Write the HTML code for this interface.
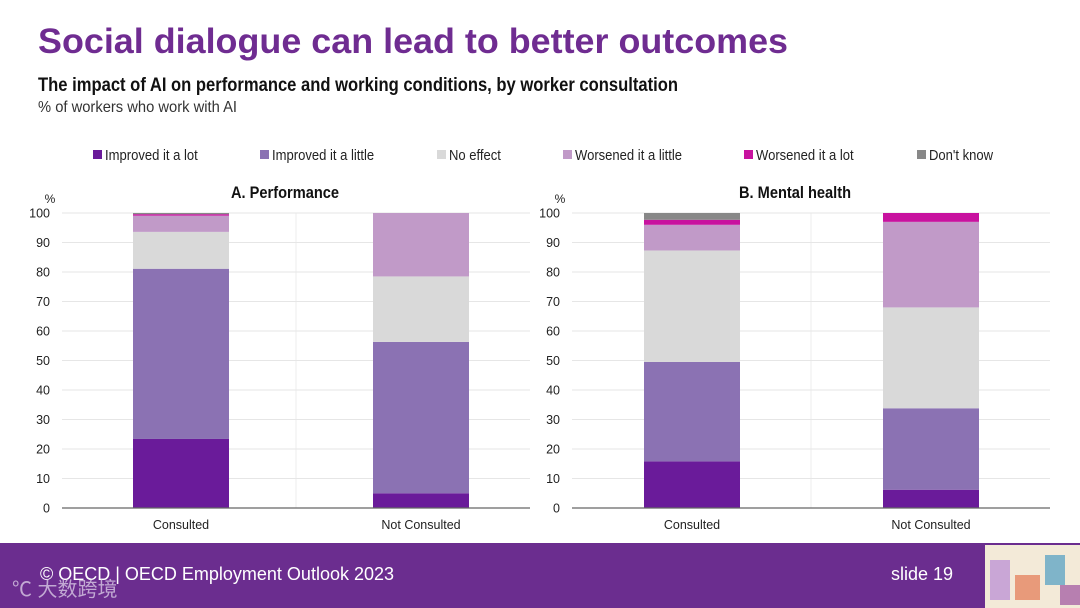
<!DOCTYPE html>
<html><head><meta charset="utf-8"><style>
html,body{margin:0;padding:0;background:#fff;}
svg{display:block;font-family:"Liberation Sans","Noto Sans CJK SC",sans-serif;}
</style></head><body>
<svg id="chart" width="1080" height="608" viewBox="0 0 1080 608">
<text x="38" y="53" font-size="35" font-weight="bold" fill="#6f2c91" textLength="750" lengthAdjust="spacingAndGlyphs">Social dialogue can lead to better outcomes</text>
<text x="38" y="91" font-size="19" font-weight="bold" fill="#111" textLength="640" lengthAdjust="spacingAndGlyphs">The impact of AI on performance and working conditions, by worker consultation</text>
<text x="38" y="112" font-size="16" fill="#333" textLength="199" lengthAdjust="spacingAndGlyphs">% of workers who work with AI</text>
<g id="legend"></g>
<g id="panels"></g>
<rect x="0" y="543" width="1080" height="65" fill="#6b2d8f"/>
<text x="40" y="580" font-size="18" fill="#fff" textLength="354" lengthAdjust="spacingAndGlyphs">© OECD | OECD Employment Outlook 2023</text>
<text x="891" y="580" font-size="18" fill="#fff">slide 19</text>
<text x="12" y="596" font-size="20" fill="#d8c8e4" opacity="0.8">℃ 大数跨境</text>
<g>
<rect x="985" y="545" width="95" height="63" fill="#f3ead8"/>
<rect x="990" y="560" width="20" height="40" fill="#c9a6d6"/>
<rect x="1015" y="575" width="25" height="25" fill="#e89a7a"/>
<rect x="1045" y="555" width="20" height="30" fill="#7fb4c9"/>
<rect x="1060" y="585" width="20" height="20" fill="#b77fb0"/>
</g>
</svg>
<script>
const categories = ["Consulted", "Not Consulted"];
const seriesNames = ["Improved it a lot","Improved it a little","No effect","Worsened it a little","Worsened it a lot","Don't know"];
const seriesColors = ["#6a1b9a","#8b72b3","#d9d9d9","#c19ac8","#c8129f","#888888"];
const perfConsulted = [23.4, 57.7, 12.5, 5.5, 0.5, 0.4];
const perfNotConsulted = [5.0, 51.3, 22.2, 21.5, 0, 0];
const mentalConsulted = [15.8, 33.7, 37.8, 8.7, 1.7, 2.3];
const mentalNotConsulted = [6.2, 27.6, 34.2, 29.0, 3.0, 0];
const yTicks = [0,10,20,30,40,50,60,70,80,90,100];
const panelTitles = ["A. Performance","B. Mental health"];

const NS="http://www.w3.org/2000/svg";
const svg=document.getElementById('chart');
function mk(tag,attrs,parent,text){const e=document.createElementNS(NS,tag);for(const k in attrs)e.setAttribute(k,attrs[k]);if(text!==undefined)e.textContent=text;(parent||svg).appendChild(e);return e;}

const legend=document.getElementById('legend');
const legX=[93,260,437,563,744,917];
seriesNames.forEach((n,i)=>{
  const g=mk('g',{},legend);
  
  
  mk('rect',{x:legX[i],y:150,width:9,height:9,fill:seriesColors[i]},g);
  mk('text',{x:legX[i]+12,y:160,'font-size':14.5,fill:'#222',transform:`translate(${(legX[i]+12)*0.1} 0) scale(0.9 1)`},g,n);
});

const panelData=[[perfConsulted,perfNotConsulted],[mentalConsulted,mentalNotConsulted]];
const panels=[{x0:62,x1:530,bars:[133,373],tx:231,tw:108},{x0:572,x1:1050,bars:[644,883],tx:739,tw:112}];
const yTop=213,yBot=508;
function yScale(v){return yBot-(v/100)*(yBot-yTop);}
const barW=96;
const pg=document.getElementById('panels');
panels.forEach((p,pi)=>{
  const g=mk('g',{},pg);
  
  
  const t=mk('text',{x:p.tx,y:198,'font-size':17,'font-weight':'bold',fill:'#111',textLength:p.tw,lengthAdjust:'spacingAndGlyphs'},g,panelTitles[pi]);
  
  
  const u=mk('text',{x:p.x0-12,y:203,'font-size':12,'text-anchor':'middle',fill:'#222'},g,'%');
  
  
  mk('line',{x1:(p.x0+p.x1)/2,x2:(p.x0+p.x1)/2,y1:yTop,y2:yBot,stroke:'#eeeeee','stroke-width':1},g);
  yTicks.forEach(v=>{
    if(v>0) mk('line',{x1:p.x0,x2:p.x1,y1:yScale(v),y2:yScale(v),stroke:'#e6e6e6','stroke-width':1},g);
    const lt=mk('text',{x:p.x0-12,y:yScale(v)+4.5,'font-size':12.5,'text-anchor':'end',fill:'#222'},g,String(v));
    
    
  });
  categories.forEach((c,ci)=>{
    const vals=panelData[pi][ci];
    let cum=0;
    vals.forEach((v,si)=>{
      if(v<=0)return;
      const r=mk('rect',{x:p.bars[ci],y:yScale(cum+v),width:barW,height:yScale(cum)-yScale(cum+v),fill:seriesColors[si]},g);
      
      
      cum+=v;
    });
    const xl=mk('text',{x:p.bars[ci]+barW/2,y:529,'font-size':12.5,'text-anchor':'middle',fill:'#222'},g,c);
    
    
  });
  mk('line',{x1:p.x0,x2:p.x1,y1:yBot,y2:yBot,stroke:'#666','stroke-width':1.2},g);
});
</script>
</body></html>
